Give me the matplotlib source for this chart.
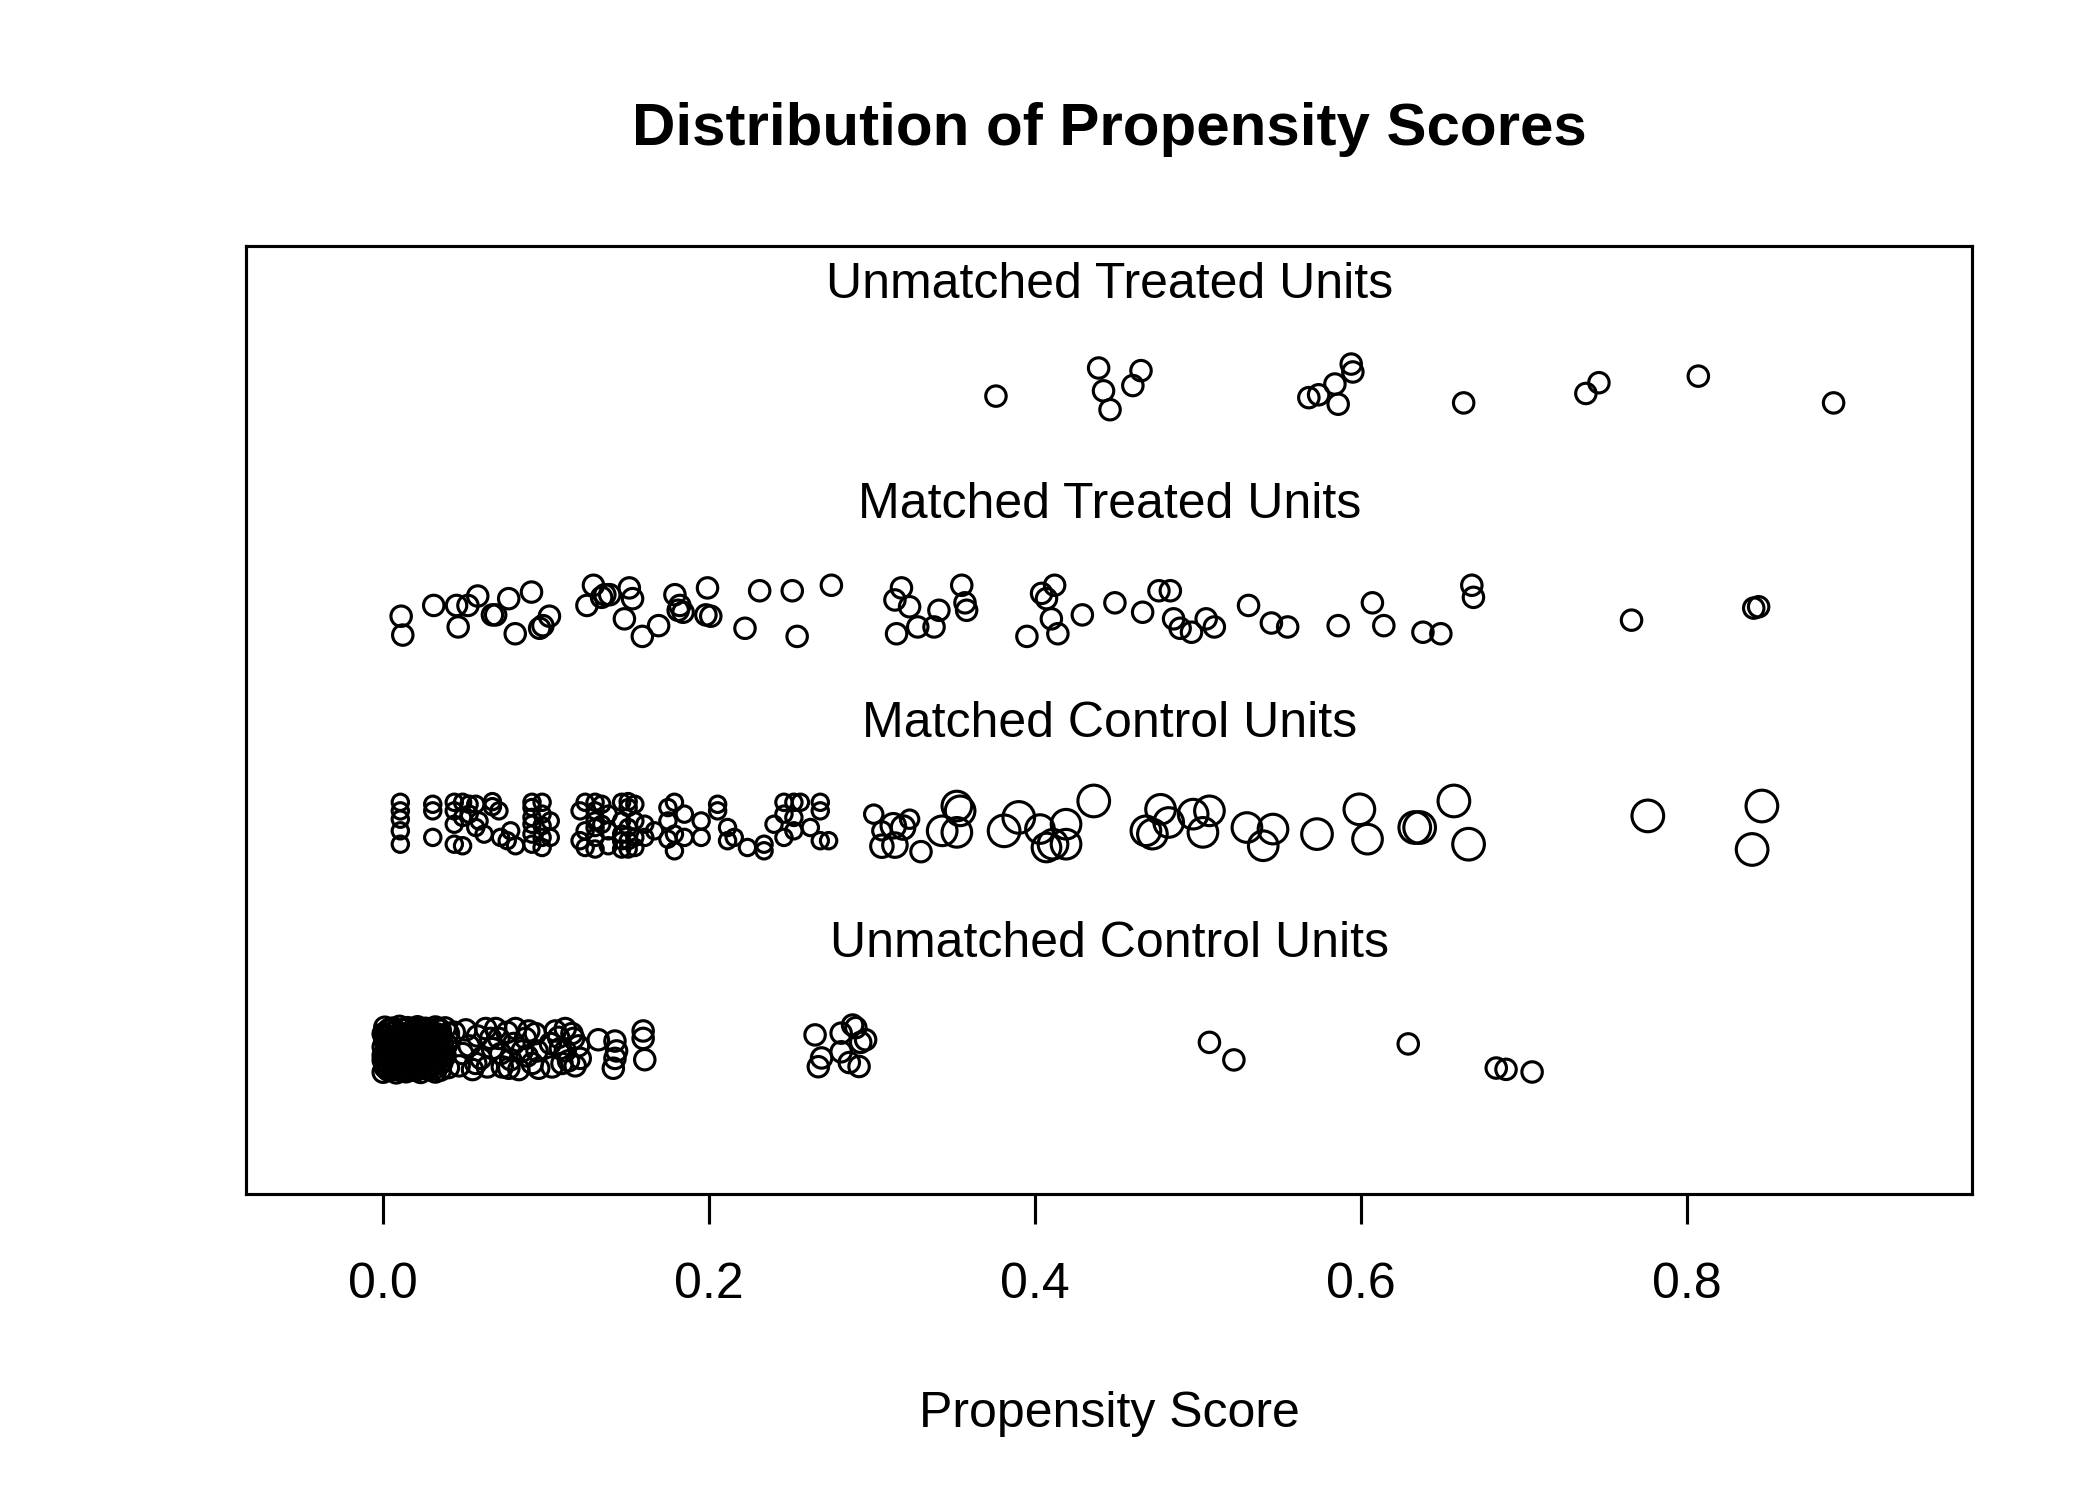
import matplotlib
matplotlib.use('Agg')
import matplotlib.pyplot as plt
import numpy as np

plt.rcParams['font.family'] = ['Liberation Sans', 'DejaVu Sans']

# Scores, plus the vertical jitter of each point
ut_score = [0.376, 0.439, 0.442, 0.446, 0.460, 0.465, 0.568, 0.574, 0.584,
            0.586, 0.594, 0.595, 0.663, 0.738, 0.746, 0.807, 0.890]
ut_jitter = [-0.024, 0.104, 0.000, -0.086, 0.024, 0.092, -0.031, -0.018, 0.031,
             -0.061, 0.122, 0.086, -0.055, -0.012, 0.037, 0.067, -0.055]

mt_score = [0.011, 0.012, 0.031, 0.045, 0.046, 0.052, 0.058, 0.067, 0.069, 0.077,
            0.081, 0.091, 0.096, 0.098, 0.102, 0.125, 0.129, 0.134, 0.136, 0.139,
            0.148, 0.151, 0.153, 0.159, 0.169, 0.179, 0.181, 0.182, 0.184, 0.198,
            0.199, 0.201, 0.222, 0.231, 0.251, 0.254, 0.275, 0.314, 0.315, 0.318,
            0.323, 0.328, 0.338, 0.341, 0.355, 0.357, 0.358, 0.395, 0.404, 0.407,
            0.410, 0.412, 0.414, 0.429, 0.449, 0.466, 0.476, 0.483, 0.485, 0.489,
            0.496, 0.505, 0.510, 0.531, 0.545, 0.555, 0.586, 0.607, 0.614, 0.638,
            0.649, 0.668, 0.669, 0.766, 0.841, 0.844]
mt_jitter = [-0.027, -0.113, 0.022, 0.022, -0.076, 0.022, 0.065, -0.021, -0.021, 0.053,
             -0.107, 0.083, -0.082, -0.070, -0.027, 0.022, 0.114, 0.059, 0.071, 0.071,
             -0.039, 0.102, 0.053, -0.119, -0.070, 0.071, 0.000, 0.022, -0.009, -0.021,
             0.102, -0.027, -0.082, 0.089, 0.089, -0.119, 0.114, 0.047, -0.107, 0.102,
             0.016, -0.076, -0.076, 0.000, 0.114, 0.034, 0.000, -0.119, 0.077, 0.053,
             -0.039, 0.114, -0.107, -0.021, 0.034, -0.009, 0.089, 0.089, -0.039, -0.082,
             -0.100, -0.039, -0.076, 0.022, -0.058, -0.076, -0.070, 0.034, -0.070, -0.100,
             -0.107, 0.114, 0.059, -0.045, 0.010, 0.016]

mc_score = [0.0105, 0.0105, 0.0105, 0.0105, 0.0105, 0.0304, 0.0304, 0.0304,
            0.0436, 0.0436, 0.0436, 0.0436, 0.0487, 0.0487, 0.0487, 0.0527, 0.0527,
            0.0568, 0.0568, 0.0588, 0.0619, 0.0670, 0.0670, 0.0710, 0.0720, 0.0761,
            0.0782, 0.0812, 0.0913, 0.0913, 0.0913, 0.0913, 0.0913, 0.0913,
            0.0975, 0.0975, 0.0975, 0.0975, 0.0975, 0.1025, 0.1025, 0.1208, 0.1208,
            0.1239, 0.1239, 0.1239, 0.1300, 0.1300, 0.1300, 0.1300, 0.1300, 0.1300,
            0.1341, 0.1341, 0.1381, 0.1381, 0.1381, 0.1463, 0.1463, 0.1463, 0.1463,
            0.1463, 0.1503, 0.1503, 0.1503, 0.1503, 0.1503, 0.1544, 0.1544, 0.1544,
            0.1544, 0.1605, 0.1605, 0.1665, 0.1747, 0.1747, 0.1747, 0.1787, 0.1787,
            0.1787, 0.1848, 0.1848, 0.1951, 0.1951, 0.2052, 0.2052, 0.2113, 0.2113,
            0.2154, 0.2235, 0.2337, 0.2337, 0.2398, 0.2459, 0.2459, 0.2459, 0.2520,
            0.2520, 0.2520, 0.2560, 0.2621, 0.2682, 0.2682, 0.2682, 0.2733,
            0.301, 0.306, 0.306, 0.313, 0.314, 0.319, 0.323, 0.330, 0.343, 0.352,
            0.354, 0.352, 0.381, 0.390, 0.403, 0.419, 0.411, 0.419, 0.407, 0.436,
            0.468, 0.472, 0.477, 0.482, 0.497, 0.507, 0.503, 0.530, 0.546, 0.540,
            0.573, 0.599, 0.604, 0.633, 0.636, 0.657, 0.666, 0.776, 0.846, 0.840]
mc_jitter = [0.125, 0.086, 0.048, -0.005, -0.066, 0.116, 0.086, -0.035,
             0.125, 0.086, 0.025, -0.066, 0.125, 0.056, -0.073, 0.116, 0.071,
             0.010, 0.116, 0.040, -0.020, 0.128, 0.105, 0.086, -0.035, -0.050,
             -0.005, -0.073, 0.125, 0.101, 0.056, 0.025, -0.020, -0.066,
             0.125, 0.071, 0.018, -0.035, -0.081, 0.040, -0.035, 0.086, -0.050,
             0.125, -0.005, -0.081, 0.125, 0.086, 0.040, 0.010, -0.035, -0.088,
             0.116, 0.025, 0.071, -0.005, -0.073, 0.125, 0.040, -0.020, -0.050,
             -0.088, 0.128, 0.101, 0.010, -0.050, -0.088, 0.116, 0.040, -0.035,
             -0.081, 0.025, -0.035, -0.005, 0.101, 0.040, -0.043, 0.125, -0.020,
             -0.096, 0.071, -0.035, 0.040, -0.035, 0.116, 0.086, 0.010, -0.050,
             -0.035, -0.081, -0.066, -0.096, 0.025, 0.125, 0.071, -0.035, 0.125,
             0.056, -0.005, 0.125, 0.010, 0.125, 0.086, -0.050, -0.050,
             0.071, -0.005, -0.075, 0.018, -0.070, 0.010, 0.048, -0.100, -0.005, 0.108,
             0.086, -0.012, -0.005, 0.056, 0.003, 0.025, -0.066, -0.066, -0.081, 0.131,
             -0.005, -0.020, 0.093, 0.033, 0.071, 0.086, -0.012, 0.010, 0.003, -0.073,
             -0.020, 0.093, -0.043, 0.010, 0.010, 0.131, -0.066, 0.063, 0.108, -0.090]
# matching weights (relative circle size) of the matched controls
mc_weight = [0.80] * 105 + [
    0.90, 0.90, 1.10, 1.20, 1.20, 1.15, 0.90, 1.00, 1.45, 1.45,
    1.45, 1.45, 1.55, 1.55, 1.40, 1.45, 1.45, 1.45, 1.40, 1.55,
    1.45, 1.45, 1.45, 1.45, 1.45, 1.45, 1.45, 1.45, 1.45, 1.45,
    1.50, 1.50, 1.45, 1.55, 1.55, 1.55, 1.55, 1.55, 1.55, 1.55]

uc_score = [
    0.001, 0.006, 0.010, 0.015, 0.021, 0.026, 0.032, 0.038,
    0.004, 0.012, 0.019, 0.027, 0.034,
    0.003, 0.008, 0.013, 0.018, 0.024, 0.029, 0.035,
    0.000, 0.005, 0.011, 0.016, 0.020, 0.027, 0.033, 0.040,
    0.001, 0.009, 0.017, 0.025, 0.031,
    0.002, 0.007, 0.012, 0.019, 0.023, 0.030, 0.036,
    0.001, 0.004, 0.009, 0.014, 0.017, 0.022, 0.028, 0.034,
    0.002, 0.010, 0.019, 0.027, 0.036,
    0.003, 0.006, 0.011, 0.016, 0.021, 0.025, 0.031, 0.039,
    0.000, 0.005, 0.008, 0.013, 0.018, 0.024, 0.029, 0.035,
    0.003, 0.011, 0.016, 0.022, 0.031,
    0.002, 0.007, 0.010, 0.015, 0.020, 0.026, 0.032, 0.037,
    0.001, 0.004, 0.009, 0.012, 0.017, 0.023, 0.028, 0.034,
    0.000, 0.007, 0.015, 0.021, 0.029,
    0.003, 0.006, 0.011, 0.014, 0.019, 0.025, 0.030, 0.038,
    0.000, 0.005, 0.008, 0.013, 0.016, 0.022, 0.027, 0.033,
    0.003, 0.011, 0.019, 0.025, 0.035,
    0.002, 0.007, 0.010, 0.015, 0.021, 0.024, 0.031, 0.036,
    0.001, 0.004, 0.009, 0.012, 0.018, 0.026, 0.029, 0.040,
    0.002, 0.008, 0.015, 0.023, 0.031,
    0.003, 0.006, 0.011, 0.017, 0.020, 0.028, 0.035,
    0.000, 0.008, 0.014, 0.023, 0.032,
    0.0436, 0.0466, 0.0487, 0.0507, 0.0527, 0.0548, 0.0568, 0.0578, 0.0599,
    0.0629, 0.0639, 0.0659, 0.0670, 0.0690, 0.0710, 0.0721, 0.0731, 0.0761,
    0.0771, 0.0782, 0.0802, 0.0812, 0.0832, 0.0853, 0.0873, 0.0883, 0.0893,
    0.0914, 0.0934, 0.0944, 0.0954, 0.1026, 0.1036, 0.1056, 0.1076, 0.1087,
    0.1097, 0.1117, 0.1117, 0.1137, 0.1158, 0.1168, 0.1178, 0.1198, 0.1209,
    0.1320, 0.1422, 0.1432, 0.1422, 0.1412, 0.1595, 0.1595, 0.1605,
    0.265, 0.267, 0.269, 0.281, 0.281, 0.286, 0.288, 0.290, 0.292, 0.293, 0.296,
    0.507, 0.522, 0.629, 0.683, 0.689, 0.705]
uc_jitter = [
    0.100, 0.096, 0.104, 0.098, 0.102, 0.095, 0.101, 0.097,
    0.092, 0.090, 0.094, 0.091, 0.093,
    0.085, 0.081, 0.088, 0.084, 0.087, 0.082, 0.086,
    0.070, 0.073, 0.067, 0.071, 0.068, 0.074, 0.069, 0.072,
    0.063, 0.061, 0.064, 0.062, 0.065,
    0.055, 0.058, 0.052, 0.056, 0.053, 0.057, 0.054,
    0.040, 0.037, 0.043, 0.039, 0.042, 0.038, 0.041, 0.036,
    0.032, 0.030, 0.033, 0.031, 0.034,
    0.025, 0.028, 0.022, 0.026, 0.023, 0.027, 0.024, 0.021,
    0.010, 0.007, 0.013, 0.009, 0.012, 0.008, 0.011, 0.006,
    0.003, 0.001, 0.004, 0.002, 0.005,
    -0.005, -0.002, -0.008, -0.004, -0.007, -0.003, -0.006, -0.001,
    -0.020, -0.023, -0.017, -0.021, -0.018, -0.022, -0.019, -0.024,
    -0.028, -0.026, -0.029, -0.027, -0.030,
    -0.035, -0.032, -0.038, -0.034, -0.037, -0.033, -0.036, -0.031,
    -0.050, -0.053, -0.047, -0.051, -0.048, -0.052, -0.049, -0.054,
    -0.058, -0.056, -0.059, -0.057, -0.060,
    -0.065, -0.062, -0.068, -0.064, -0.067, -0.063, -0.066, -0.061,
    -0.080, -0.083, -0.077, -0.081, -0.078, -0.082, -0.079, -0.084,
    -0.088, -0.086, -0.089, -0.087, -0.090,
    -0.095, -0.092, -0.098, -0.094, -0.097, -0.093, -0.096,
    -0.105, -0.108, -0.103, -0.106, -0.104,
    0.077, -0.076, -0.020, 0.088, 0.015, -0.093, -0.065, 0.060, -0.042,
    0.094, -0.081, 0.049, 0.003, 0.094, 0.049, -0.020, -0.081, 0.077,
    -0.087, -0.048, 0.026, 0.094, -0.093, -0.008, 0.049, -0.031, 0.083,
    -0.065, 0.071, -0.008, -0.087, 0.026, -0.081, 0.083, 0.054, 0.003,
    -0.065, 0.094, -0.008, -0.053, 0.071, 0.049, -0.076, 0.015, -0.042,
    0.043, 0.037, -0.008, -0.042, -0.087, 0.083, 0.049, -0.048,
    0.065, -0.080, -0.040, 0.073, -0.012, -0.061, 0.110, 0.098, -0.079, 0.031, 0.043,
    0.031, -0.049, 0.024, -0.086, -0.092, -0.104]

group_labels = ['Unmatched Control Units', 'Matched Control Units',
                'Matched Treated Units', 'Unmatched Treated Units']
x_ticks = [0.0, 0.2, 0.4, 0.6, 0.8]

fig = plt.figure(figsize=(7, 5), dpi=300)
ax = fig.add_axes([0.1173, 0.2040, 0.8218, 0.6320])

base = 4.9  # circle diameter in points for weight 1
ring = dict(facecolors='none', edgecolors='black', linewidths=0.75)

ax.scatter(uc_score, 1 + np.array(uc_jitter), s=base ** 2, **ring)
ax.scatter(mc_score, 2 + np.array(mc_jitter),
           s=(base * np.array(mc_weight)) ** 2, **ring)
ax.scatter(mt_score, 3 + np.array(mt_jitter), s=base ** 2, **ring)
ax.scatter(ut_score, 4 + np.array(ut_jitter), s=base ** 2, **ring)

xlim = (-0.084, 0.975)
ax.set_xlim(xlim)
ax.set_ylim(0.34, 4.66)

for i, lab in enumerate(group_labels):
    ax.text(sum(xlim) / 2, i + 1.48, lab, ha='center', va='center', fontsize=12)

ax.set_xticks(x_ticks)
ax.set_xticklabels(['%.1f' % t for t in x_ticks], fontsize=12)
ax.set_yticks([])
ax.tick_params(axis='x', direction='out', length=7.2, width=0.75, pad=9)
for sp in ax.spines.values():
    sp.set_linewidth(0.75)

ax.set_xlabel('Propensity Score', fontsize=12)
ax.xaxis.set_label_coords(0.5, -0.232)
ax.xaxis.label.set_va('center')
ax.set_title('Distribution of Propensity Scores', fontsize=14.4,
             fontweight='bold', y=1.123, va='center', pad=0)

fig.savefig('out.png', dpi=300)
